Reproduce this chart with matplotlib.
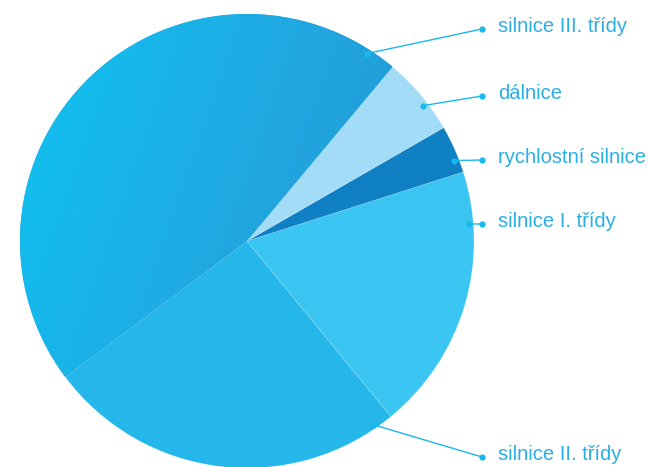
import matplotlib.pyplot as plt
import numpy as np
from matplotlib.colors import LinearSegmentedColormap

# podíl jednotlivých kategorií silnic (%)
labels = ["silnice II. třídy", "silnice I. třídy", "rychlostní silnice",
          "dálnice", "silnice III. třídy"]
shares = [25.7, 19.0, 3.4, 5.6, 46.3]
colors = ["#25b6ea", "#3ac5f3", "#0f80c4", "#a3dcf7", "#1b9cda"]

W, H = 648, 467
cx, cy, R = 247, 241, 227

fig = plt.figure(figsize=(W / 100, H / 100), dpi=100)
ax = fig.add_axes([0, 0, 1, 1])

wedges, _ = ax.pie(shares, colors=colors, startangle=216.8, counterclock=True,
                   radius=1.0, center=(0, 0), frame=True,
                   wedgeprops=dict(linewidth=0.4, edgecolor=(1, 1, 1, 0.25)))
ax.set_xlim(-cx / R, (W - cx) / R)
ax.set_ylim(-(H - cy) / R, cy / R)
ax.set_aspect("equal")
ax.axis("off")

# přechod barvy v největší výseči
grad_cmap = LinearSegmentedColormap.from_list("g", ["#0fc3f2", "#22a6e0", "#1b90d0"])
gx, gy = np.meshgrid(np.linspace(-1, 1, 300), np.linspace(-1, 1, 300))
grad = (gx - 0.35 * gy + 1.35) / 2.7
img = ax.imshow(grad, cmap=grad_cmap, extent=(-1, 1, -1, 1), origin="lower",
                interpolation="bilinear", zorder=wedges[4].get_zorder() + 0.1)
img.set_clip_path(wedges[4])

# popisky s odkazovými čarami
anchor_angles = [-55.6, 4.4, 21.2, 37.5, 57.4]
label_y = [457, 224, 160, 96, 29]
line_color = "#1ab8ec"
text_color = "#2aaee6"
for lab, ang, py in zip(labels, anchor_angles, label_y):
    a = np.deg2rad(ang)
    x0, y0 = 0.98 * np.cos(a), 0.98 * np.sin(a)
    x1, y1 = (482 - cx) / R, (cy - py) / R
    ax.plot([x0, x1], [y0, y1], color=line_color, lw=1.0, zorder=5)
    ax.plot([x0, x1], [y0, y1], "o", color=line_color, ms=3.5, zorder=6)
    ax.text((498 - cx) / R, (cy - py + 3) / R, lab, color=text_color,
            fontsize=14.5, family="Liberation Sans", va="center", ha="left")

fig.savefig("out.png", dpi=100)
